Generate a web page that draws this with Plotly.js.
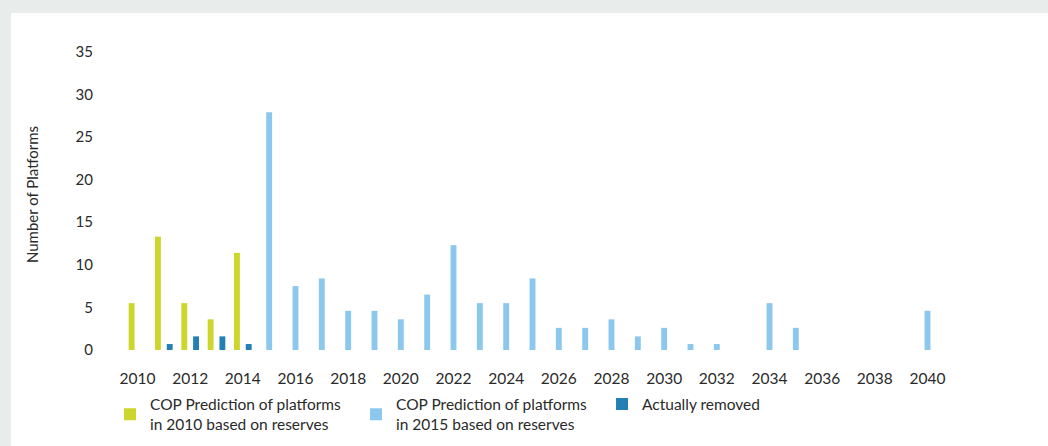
<!DOCTYPE html>
<html>
<head>
<meta charset="utf-8">
<script src="https://cdn.plot.ly/plotly-3.0.1.min.js"></script>
<style>
  html, body { margin: 0; padding: 0; background: #e8ecea; overflow: hidden; }
  #chart { position: absolute; left: 11px; top: 13px; width: 1037px; height: 433px; background: #ffffff; }
</style>
</head>
<body>
<div id="chart"></div>
<script>
// Data
var years2010 = [2010, 2011, 2012, 2013, 2014];
var pred2010 = [5.5, 13.3, 5.5, 3.6, 11.4];

var years2015 = [2015, 2016, 2017, 2018, 2019, 2020, 2021, 2022, 2023, 2024, 2025, 2026, 2027,
                 2028, 2029, 2030, 2031, 2032, 2033, 2034, 2035, 2036, 2037, 2038, 2039, 2040];
var pred2015 = [27.9, 7.5, 8.4, 4.6, 4.6, 3.6, 6.5, 12.3, 5.5, 5.5, 8.4, 2.6, 2.6,
                3.6, 1.6, 2.6, 0.7, 0.7, 0, 5.5, 2.6, 0, 0, 0, 0, 4.6];

var yearsRemoved = [2011, 2012, 2013, 2014];
var removed = [0.7, 1.6, 1.6, 0.7];

var xTickVals = [2010, 2012, 2014, 2016, 2018, 2020, 2022, 2024, 2026, 2028, 2030, 2032, 2034, 2036, 2038, 2040];
var xTickText = ['2010', '2012', '2014', '2016', '2018', '2020', '2022', '2024', '2026', '2028', '2030', '2032', '2034', '2036', '2038', '2040'];
var yTickVals = [0, 5, 10, 15, 20, 25, 30, 35];

var seriesNames = [
  'COP Prediction of platforms<br>in 2010 based on reserves',
  'COP Prediction of platforms<br>in 2015 based on reserves',
  'Actually removed'
];

var FONT = 'Lato, "Open Sans", sans-serif';
var TXT = '#2a2a2a';

var traces = [
  { type: 'bar', x: years2010, y: pred2010, name: seriesNames[0], marker: { color: '#cdd62c' }, hoverinfo: 'x+y' },
  { type: 'bar', x: years2015, y: pred2015, name: seriesNames[1], marker: { color: '#8cc7ed' }, hoverinfo: 'x+y' },
  { type: 'bar', x: yearsRemoved, y: removed, name: seriesNames[2], marker: { color: '#2480b2' }, hoverinfo: 'x+y' }
];

var layout = {
  width: 1037,
  height: 433,
  paper_bgcolor: '#ffffff',
  plot_bgcolor: '#ffffff',
  margin: { l: 89, r: 81, t: 26, b: 96, pad: 0 },
  barmode: 'group',
  bargap: 0.33,
  bargroupgap: 0,
  font: { family: FONT, color: TXT, size: 15 },
  xaxis: {
    range: [2008.576, 2041.5],
    tickmode: 'array',
    tickvals: xTickVals,
    ticktext: xTickText,
    showgrid: false,
    zeroline: false,
    showline: false,
    ticks: '',
    ticklabelstandoff: 17,
    tickfont: { family: FONT, size: 15.5, color: TXT }
  },
  yaxis: {
    range: [0, 36.5],
    tickmode: 'array',
    tickvals: yTickVals,
    showgrid: false,
    zeroline: false,
    showline: false,
    ticks: '',
    ticklabelstandoff: 6,
    tickfont: { family: FONT, size: 15, color: TXT },
    title: { text: 'Number of Platforms', font: { family: FONT, size: 15, color: TXT }, standoff: 33 }
  },
  showlegend: true,
  legend: {
    orientation: 'h',
    xref: 'container',
    yref: 'container',
    x: 0.0955,
    xanchor: 'left',
    y: 0.0727,
    yanchor: 'middle',
    entrywidth: 201,
    entrywidthmode: 'pixels',
    font: { family: FONT, size: 15.5, color: TXT },
    bgcolor: 'rgba(0,0,0,0)',
    traceorder: 'normal',
    valign: 'middle'
  }
};

Plotly.newPlot('chart', traces, layout, { displayModeBar: false, staticPlot: true });
</script>
</body>
</html>
